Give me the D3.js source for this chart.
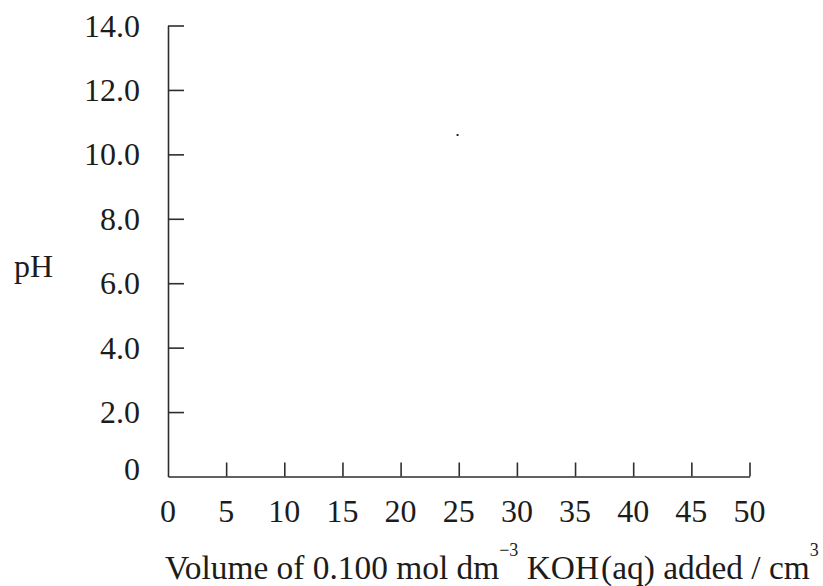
<!DOCTYPE html>
<html>
<head>
<meta charset="utf-8">
<script src="https://cdn.jsdelivr.net/npm/d3@7"></script>
<style>
  html, body { margin: 0; padding: 0; background: #fff; }
  svg { display: block; }
  text { font-family: "Liberation Serif", "Times New Roman", serif; fill: #1c1c1c; }
</style>
</head>
<body>
<svg id="chart" width="823" height="586"></svg>
<script>
// Titration axes: pH against volume of KOH added
const xTicks = [0, 5, 10, 15, 20, 25, 30, 35, 40, 45, 50];
const xTickLabels = ["0", "5", "10", "15", "20", "25", "30", "35", "40", "45", "50"];
const yTicks = [0, 2, 4, 6, 8, 10, 12, 14];
const yTickLabels = ["0", "2.0", "4.0", "6.0", "8.0", "10.0", "12.0", "14.0"];
const pointVolume = [24.9];
const pointPH = [10.6];

const svg = d3.select("#chart");
const x = d3.scaleLinear().domain([0, 50]).range([168, 749.5]);
const y = d3.scaleLinear().domain([0, 14]).range([476.5, 25.5]);

const axisColor = "#2e2e2e";
const fontSize = 32;

// x axis with inward (upward) ticks
const xAxis = d3.axisBottom(x)
  .tickValues(xTicks.slice(1))
  .tickSizeInner(-14)
  .tickSizeOuter(0)
  .tickFormat("");
const gx = svg.append("g").attr("transform", `translate(0,${y(0)})`).call(xAxis);
gx.select(".domain").attr("stroke", axisColor).attr("stroke-width", 1.6);
gx.selectAll(".tick line").attr("stroke", axisColor).attr("stroke-width", 1.6);

// y axis with inward (rightward) ticks
const yAxis = d3.axisLeft(y)
  .tickValues(yTicks.slice(1))
  .tickSizeInner(-16)
  .tickSizeOuter(0)
  .tickFormat("");
const gy = svg.append("g").attr("transform", `translate(${x(0)},0)`).call(yAxis);
gy.select(".domain").attr("stroke", axisColor).attr("stroke-width", 1.6);
gy.selectAll(".tick line").attr("stroke", axisColor).attr("stroke-width", 1.6);

// x tick labels
svg.append("g").selectAll("text")
  .data(xTicks)
  .join("text")
  .attr("x", d => x(d))
  .attr("y", 522)
  .attr("text-anchor", "middle")
  .attr("font-size", fontSize)
  .text((d, i) => xTickLabels[i]);

// y tick labels
svg.append("g").selectAll("text")
  .data(yTicks)
  .join("text")
  .attr("x", 140)
  .attr("y", d => y(d) + (d === 0 ? -8 : 0) + 11)
  .attr("text-anchor", "end")
  .attr("font-size", fontSize)
  .text((d, i) => yTickLabels[i]);

// y axis title
svg.append("text")
  .attr("x", 53)
  .attr("y", 277)
  .attr("text-anchor", "end")
  .attr("font-size", fontSize)
  .text("pH");

// x axis title with superscripts
const title = svg.append("text")
  .attr("x", 165)
  .attr("y", 579)
  .attr("font-size", 33.4);
title.append("tspan").text("Volume of 0.100 mol dm");
title.append("tspan").attr("dy", -23).attr("font-size", 18).text("\u22123");
title.append("tspan").attr("dy", 23).text(" KOH");
title.append("tspan").attr("dx", 2).text("(aq) added / cm");
title.append("tspan").attr("dy", -23).attr("font-size", 18).text("3");

// plotted point
svg.append("g").selectAll("rect")
  .data(pointVolume)
  .join("rect")
  .attr("x", d => x(d) - 1)
  .attr("y", (d, i) => y(pointPH[i]) - 1)
  .attr("width", 2)
  .attr("height", 2)
  .attr("fill", "#222");
</script>
</body>
</html>
